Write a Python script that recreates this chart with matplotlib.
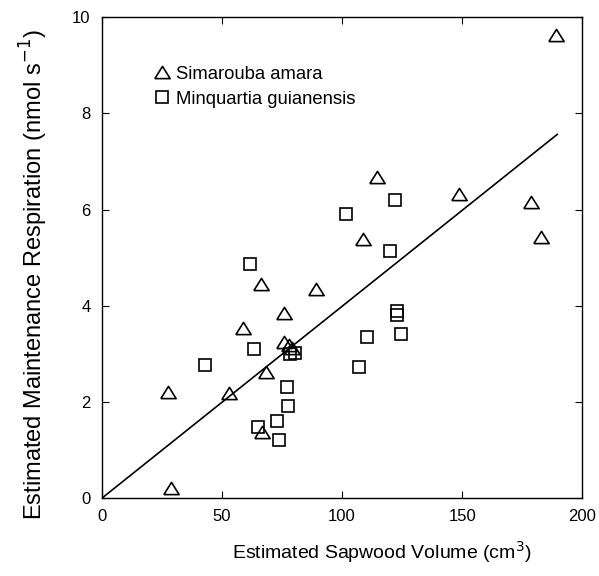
import matplotlib
matplotlib.use("Agg")
import matplotlib.pyplot as plt
import numpy as np

plt.rcParams["font.family"] = ["Liberation Sans", "DejaVu Sans"]

# Simarouba amara (triangles)
sim_x = [189.0, 114.4, 148.5, 178.6, 182.8, 108.9, 66.3, 89.0, 76.0, 58.6,
         76.0, 77.8, 79.0, 68.2, 27.6, 53.1, 66.8, 28.6]
sim_y = [9.63, 6.68, 6.32, 6.15, 5.43, 5.38, 4.46, 4.36, 3.85, 3.53,
         3.25, 3.18, 3.12, 2.63, 2.21, 2.18, 1.37, 0.22]

# Minquartia guianensis (squares)
min_x = [122.2, 101.5, 120.1, 61.7, 122.9, 122.9, 124.6, 110.3, 63.3, 42.8,
         80.4, 78.3, 106.9, 77.1, 77.4, 73.1, 65.0, 73.6]
min_y = [6.20, 5.92, 5.14, 4.88, 3.89, 3.80, 3.42, 3.35, 3.10, 2.77,
         3.02, 2.99, 2.73, 2.31, 1.91, 1.61, 1.48, 1.21]

# fitted line through the origin
fit_x = [0, 189.6]
fit_slope = 0.0399

# a slightly flattened open triangle, as in the original figure
tri = [(-1, -0.8), (1, -0.8), (0, 0.8), (-1, -0.8)]

fig = plt.figure(figsize=(5.99, 5.76), dpi=100)
ax = fig.add_axes([0.170, 0.135, 0.802, 0.835])

ax.plot(fit_x, np.array(fit_x) * fit_slope, color="black", linewidth=1.2)
ax.plot(sim_x, sim_y, linestyle="none", marker=tri, markersize=11,
        markerfacecolor="none", markeredgecolor="black", markeredgewidth=1.2,
        label="Simarouba amara")
ax.plot(min_x, min_y, linestyle="none", marker="s", markersize=9,
        markerfacecolor="none", markeredgecolor="black", markeredgewidth=1.2,
        label="Minquartia guianensis")

ax.set_xlim(0, 200)
ax.set_ylim(0, 10)
ax.set_xticks([0, 50, 100, 150, 200])
ax.set_yticks([0, 2, 4, 6, 8, 10])
ax.tick_params(direction="in", top=True, right=True, length=5, width=0.8,
               labelsize=12)
ax.tick_params(axis="x", pad=8)
ax.tick_params(axis="y", pad=8)
for s in ax.spines.values():
    s.set_linewidth(1.0)

ax.set_xlabel("Estimated Sapwood Volume (cm$^3$)", fontsize=14)
ax.xaxis.set_label_coords(0.583, -0.085)
ax.set_ylabel("Estimated Maintenance Respiration (nmol s$^{-1}$)", fontsize=17)
ax.yaxis.set_label_coords(-0.108, 0.465)

ax.legend(loc="upper left", bbox_to_anchor=(0.09, 0.915), frameon=False,
          fontsize=13.3, handletextpad=0.25, labelspacing=0.45,
          handlelength=1.0, borderaxespad=0)

fig.savefig("out.png", dpi=100)
